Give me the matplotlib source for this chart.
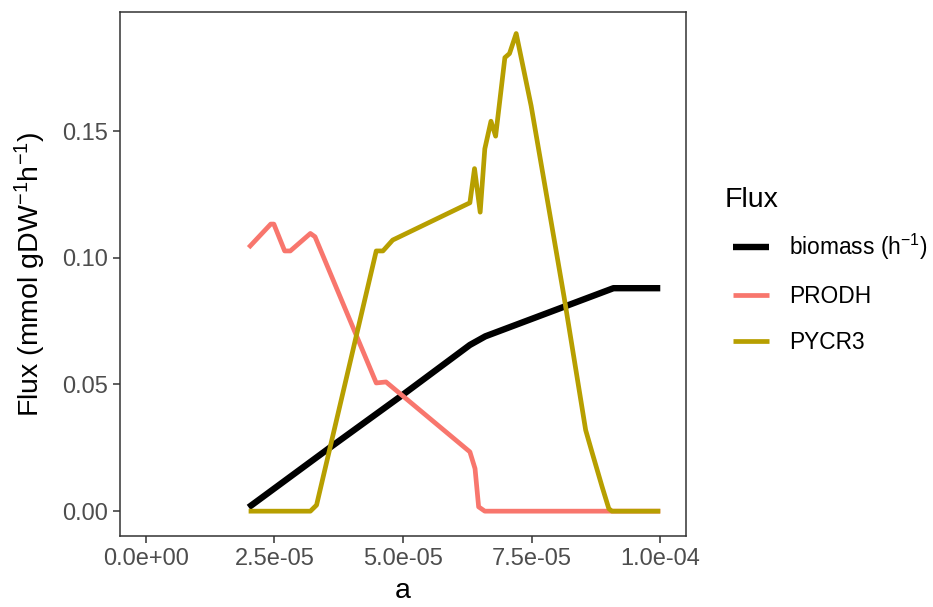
import matplotlib
matplotlib.use("Agg")
import matplotlib.pyplot as plt
from matplotlib.ticker import FuncFormatter
from matplotlib.legend_handler import HandlerLine2D

plt.rcParams['font.family'] = ['Liberation Sans', 'DejaVu Sans']
plt.rcParams['mathtext.default'] = 'regular'

# values (a in units of 1e-5)
a_biomass = [2.0, 3.6, 5.0, 6.3, 6.6, 9.09, 10.0]
biomass = [0.0015, 0.0254, 0.046, 0.0656, 0.069, 0.088, 0.088]

a_prodh = [2.0, 2.43, 2.49, 2.70, 2.81, 3.20, 3.29, 4.48, 4.67,
           6.30, 6.40, 6.47, 6.59, 10.0]
prodh = [0.104, 0.1133, 0.1133, 0.1027, 0.1027, 0.1096, 0.1083, 0.0506,
         0.0510, 0.0234, 0.0168, 0.0017, 0.0, 0.0]

a_pycr3 = [2.0, 3.20, 3.32, 4.48, 4.61, 4.80, 6.30, 6.39, 6.50, 6.59,
           6.71, 6.80, 6.98, 7.07, 7.20, 7.49, 7.94, 8.13, 8.55, 8.68,
           8.87, 9.00, 9.06, 10.0]
pycr3 = [0.0, 0.0, 0.0024, 0.1027, 0.1027, 0.107, 0.1217, 0.1352, 0.118,
         0.143, 0.1539, 0.148, 0.179, 0.1806, 0.1885, 0.160, 0.107, 0.0846,
         0.032, 0.0228, 0.0096, 0.001, 0.0, 0.0]

x_ticks = [0, 2.5e-5, 5e-5, 7.5e-5, 1e-4]
y_ticks = [0.0, 0.05, 0.10, 0.15]

fig = plt.figure(figsize=(9.33, 6.07), dpi=100)
ax = fig.add_axes([120 / 933, 1 - 536 / 607, 566 / 933, 524 / 607])

ax.plot([v * 1e-5 for v in a_biomass], biomass, c='black', lw=4.6,
        label='biomass (h$^{-1}$)', solid_capstyle='butt')
ax.plot([v * 1e-5 for v in a_prodh], prodh, c='#F8766D', lw=3.4,
        label='PRODH', solid_capstyle='butt')
ax.plot([v * 1e-5 for v in a_pycr3], pycr3, c='#B79F00', lw=3.4,
        label='PYCR3', solid_capstyle='butt')

ax.set_xlim(-5e-6, 1.05e-4)
ax.set_ylim(-0.0098, 0.197)
ax.set_xticks(x_ticks)
ax.set_yticks(y_ticks)
ax.xaxis.set_major_formatter(FuncFormatter(lambda v, p: '{:.1e}'.format(v)))
ax.yaxis.set_major_formatter(FuncFormatter(lambda v, p: '{:.2f}'.format(v)))
ax.tick_params(labelsize=17, labelcolor='#4D4D4D', color='#333333',
               length=5, width=1.1)
for s in ax.spines.values():
    s.set_color('#333333')
    s.set_linewidth(1.1)

ax.set_xlabel('a', fontsize=20.5, labelpad=6)
ax.set_ylabel('Flux (mmol gDW$^{-1}$h$^{-1}$)', fontsize=20.5, labelpad=10)

# keys indented a little from the title, like ggplot's key boxes
leg = ax.legend(loc='center left', bbox_to_anchor=(1.04, 0.507),
                title='Flux', fontsize=16.4, title_fontsize=20.5,
                frameon=False, handlelength=1.97, handletextpad=0.86,
                labelspacing=1.0, borderaxespad=0.3,
                handler_map={plt.Line2D: HandlerLine2D(xpad=0.35)})
leg._legend_box.align = 'left'
leg._legend_box.sep = 13.6

fig.savefig('out.png', dpi=100)
